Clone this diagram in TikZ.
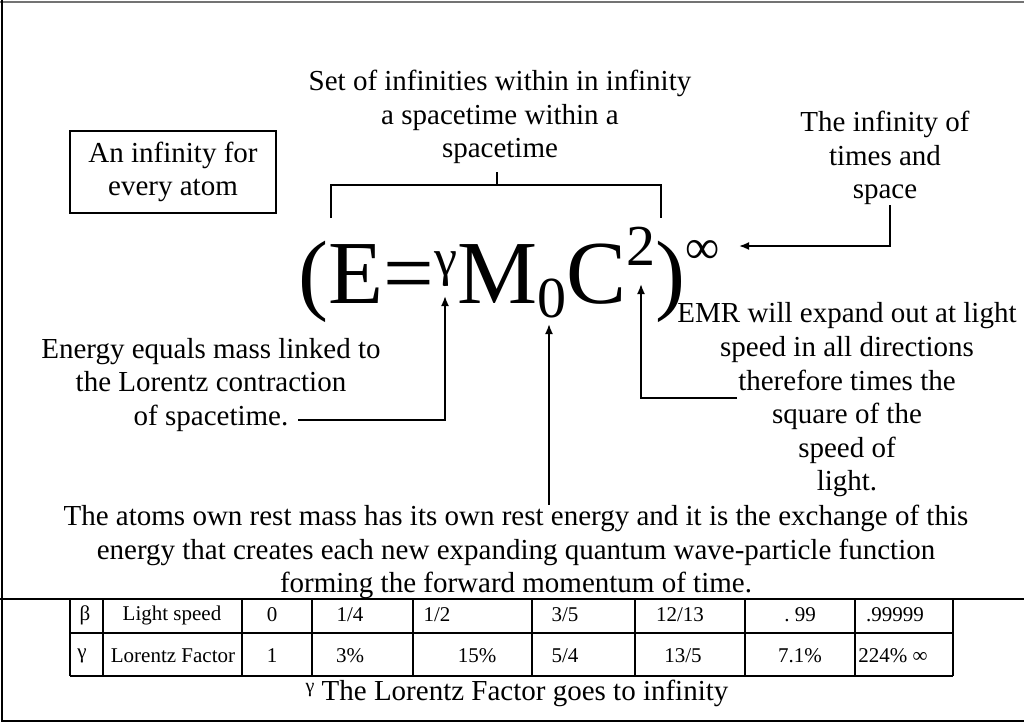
\documentclass[tikz,border=0pt]{standalone}
\usepackage{fontspec}
\setmainfont{Liberation Serif}
\usetikzlibrary{arrows.meta, positioning, calc}

\begin{document}
\begin{tikzpicture}[x=0.5pt, y=-0.5pt,
    note/.style={align=center, inner sep=0pt, font=\fontsize{14.5}{16.8}\selectfont},
    cell/.style={inner sep=0pt, font=\fontsize{10.5}{12}\selectfont},
    arr/.style={-{Latex[length=5pt,width=4pt]}, line width=0.9pt},
    rule/.style={line width=0.9pt}]
  \useasboundingbox (0,0) rectangle (1024,724);
  \draw[black!55, line width=1pt] (0,2) -- (1024,2);
  \draw[line width=1.4pt] (2,0) -- (2,721) -- (1024,721);
  \draw[line width=1pt] (0,599) -- (1024,599);

  \node[note] (top) at (500,117) {Set of infinities within in infinity\\a spacetime within a\\spacetime};
  \node[note, draw, line width=0.6pt, minimum width=103pt, minimum height=41pt] (atom) at (173,172) {An infinity for\\every atom};
  \node[note] (tms) at (885,158) {The infinity of\\times and\\space};
  \node[note] (lft) at (211,385) {Energy equals mass linked to\\the Lorentz contraction\\of spacetime.};
  \node[note] (emr) at (847,400) {EMR will expand out at light\\speed in all directions\\therefore times the\\square of the\\speed of\\light.};
  \node[note] (rest) at (516,552) {The atoms own rest mass has its own rest energy and it is the exchange of this\\energy that creates each new expanding quantum wave-particle function\\forming the forward momentum of time.};
  \node[note] (cap) at (517,693) {\raisebox{4pt}{\fontsize{10}{10}\selectfont γ} The Lorentz Factor goes to infinity};

  \node[anchor=base west, inner sep=0pt, font=\fontsize{45}{50}\selectfont] (eq) at (298,303)
    {(E=\raisebox{14pt}{\fontsize{26}{26}\selectfont γ}M\raisebox{-7pt}{\fontsize{29}{29}\selectfont 0}C\raisebox{19pt}{\fontsize{29}{29}\selectfont 2})\raisebox{20pt}{\fontsize{24}{24}\selectfont ∞}};

  \coordinate (gam) at (445,296);
  \coordinate (zero) at (549,324);
  \coordinate (csq) at (641,284);
  \coordinate (inf) at (739,246);
  \coordinate (lftend) at (298,420);
  \coordinate (emrend) at (737,398);

  \draw[rule] (331,218) |- (661,185) -- (661,218);
  \draw[rule] (497,172) -- (497,185);

  \draw[arr] (lftend) -| (gam);
  \draw[arr] (rest.north -| zero) -- (zero);
  \draw[arr] (emrend) -| (csq);
  \draw[arr] ([xshift=2.5pt]tms.south) |- (inf);

  \draw[rule] (70,633) -- (953,633);
  \draw[rule] (70,676) -- (953,676);
  \foreach \x in {70,103,242,312,413,532,635,745,855,953}
    \draw[rule] (\x,600) -- (\x,676);
  \foreach \xa/\up/\xb/\dn [count=\i] in {85/β/82/γ, 172/Light speed/173/Lorentz Factor,
      272/0/272/1, 350/{1/4}/350/{3\%}, 437/{1/2}/477/{15\%}, 565/{3/5}/565/{5/4},
      680/{12/13}/683/{13/5}, 800/{.\ 99}/800/{7.1\%}, 895/{.99999}/893/{224\% ∞}} {
    \node[cell] (hi\i) at (\xa,615) {\up};
    \node[cell] (lo\i) at (\xb,656) {\dn};
  }
\end{tikzpicture}
\end{document}
